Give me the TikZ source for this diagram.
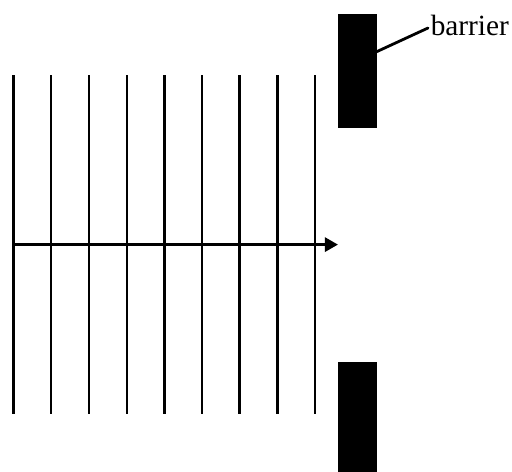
\documentclass[tikz,border=0pt]{standalone}
\usepackage{fontspec}
\setmainfont{Liberation Serif}
\usetikzlibrary{arrows.meta}
\newlength{\punit}\setlength{\punit}{0.75pt}
\tikzset{
  wave/.style={line width=2.1pt,black},
  barrierbox/.style={fill=black,draw=none,minimum width=38.6\punit,inner sep=0pt},
  lab/.style={font=\fontsize{22}{26}\selectfont,inner sep=0pt,anchor=base west}
}
\begin{document}
\begin{tikzpicture}[x=0.75pt,y=-0.75pt]
\useasboundingbox (0,0) rectangle (512,472);
\foreach \i/\x in {0/13.3,1/51,2/89,3/127,4/164.5,5/202,6/239.5,7/277.5,8/315}{
  \coordinate (t\i) at (\x,75);
  \coordinate (b\i) at (\x,414);
  \draw[wave] (t\i) -- (b\i);
}
\coordinate (as) at (13,244.6);
\coordinate (ae) at (338,244.6);
\draw[wave,-{Triangle[length=9.8pt,width=10.5pt]}] (as) -- (ae);
\node[barrierbox,minimum height=114\punit,anchor=north west] (b1) at (338,14) {};
\node[barrierbox,minimum height=110\punit,anchor=north west] (b2) at (338,362) {};
\node[lab] (l) at (430.5,35.5) {barrier};
\coordinate (le) at (428,28);
\coordinate (be) at (376,52);
\draw[line width=2.1pt,line cap=round] (le) -- (be);
\end{tikzpicture}
\end{document}
